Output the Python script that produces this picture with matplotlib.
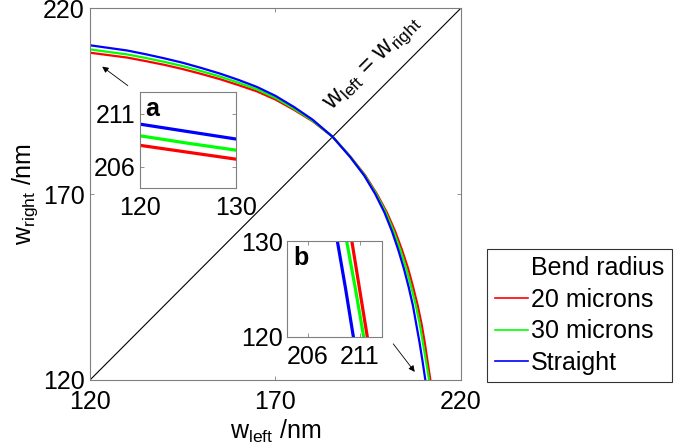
import matplotlib
matplotlib.use("Agg")
from matplotlib import pyplot as plt
from matplotlib.lines import Line2D

plt.rcParams['font.family'] = ['Liberation Sans', 'DejaVu Sans']
plt.rcParams['mathtext.fontset'] = 'custom'
plt.rcParams['mathtext.rm'] = 'Liberation Sans'
plt.rcParams['mathtext.it'] = 'Liberation Sans'

# w_left / w_right pairs (nm)
wl_straight = [120, 125, 130, 135, 140, 145, 150, 155, 160, 165, 170, 175, 180, 185.4,
               190.1, 193.9, 196.9, 199.4, 201.4, 203.1, 204.6, 205.9, 207.05, 207.95, 208.85, 209.65, 210.4]
wr_straight = [210.0, 209.3, 208.6, 207.6, 206.5, 205.3, 203.9, 202.4, 200.7, 198.8, 196.4, 193.4, 190.0, 185.4,
               180, 175, 170, 165, 160, 155, 150, 145, 140, 135, 130, 125, 120]

wl_30 = [120, 125, 130, 135, 140, 145, 150, 155, 160, 165, 170, 175, 180, 185.4,
         190.2, 194.05, 197.15, 199.75, 201.85, 203.65, 205.25, 206.6, 207.85, 208.9, 209.75, 210.6, 211.4]
wr_30 = [208.9, 208.2, 207.55, 206.6, 205.55, 204.4, 203.05, 201.6, 199.95, 198.15, 195.85, 192.95, 189.75, 185.4,
         180, 175, 170, 165, 160, 155, 150, 145, 140, 135, 130, 125, 120]

wl_20 = [120, 125, 130, 135, 140, 145, 150, 155, 160, 165, 170, 175, 180, 185.4,
         190.25, 194.2, 197.35, 200.05, 202.25, 204.1, 205.75, 207.1, 208.35, 209.4, 210.25, 211.0, 211.75]
wr_20 = [208.0, 207.35, 206.7, 205.75, 204.75, 203.6, 202.3, 200.9, 199.3, 197.6, 195.4, 192.65, 189.6, 185.4,
         180, 175, 170, 165, 160, 155, 150, 145, 140, 135, 130, 125, 120]

series = [("20 microns", wl_20, wr_20, (1, 0, 0)),
          ("30 microns", wl_30, wr_30, (0, 1, 0)),
          ("Straight", wl_straight, wr_straight, (0, 0, 1))]

main_ticks = [120, 170, 220]
grey = '#7f7f7f'
fs = 18

fig = plt.figure(figsize=(6.75, 4.47), dpi=100)


def style_axes(ax):
    for s in ax.spines.values():
        s.set_color(grey)
        s.set_linewidth(0.8)
    ax.tick_params(direction='in', top=True, right=True, color=grey,
                   labelsize=fs, length=3, width=0.6)


# main plot
ax = fig.add_axes([0.1333, 0.1499, 0.5496, 0.832])
ax.plot([120, 220], [120, 220], color='black', lw=0.8)
for name, wl, wr, c in series:
    ax.plot(wl, wr, color=c, lw=1.6)
ax.set_xlim(120, 220)
ax.set_ylim(120, 220)
ax.set_xticks(main_ticks)
ax.set_yticks(main_ticks)
style_axes(ax)
ax.tick_params(axis='x', pad=7)
ax.tick_params(axis='y', pad=4)
ax.set_xlabel(r'w$_{\rm left}$ /nm', fontsize=fs, labelpad=3)
ax.set_ylabel(r'w$_{\rm right}$ /nm', fontsize=fs, labelpad=2)
ax.text(196.3, 205.0, r'w$_{\rm left}$ = w$_{\rm right}$', fontsize=fs,
        rotation=45, ha='center', va='center', rotation_mode='anchor')

# arrows towards the zoomed regions
ax.annotate('', xy=(122.7, 204.7), xytext=(130.8, 198.7),
            arrowprops=dict(arrowstyle='-|>', color='black', lw=0.6, mutation_scale=9))
ax.annotate('', xy=(208.0, 121.6), xytext=(201.3, 130.3),
            arrowprops=dict(arrowstyle='-|>', color='black', lw=0.6, mutation_scale=9))

# inset a
axa = fig.add_axes([0.2074, 0.580, 0.1418, 0.2134])
for name, wl, wr, c in series:
    axa.plot(wl, wr, color=c, lw=2.3)
axa.set_xlim(120, 130)
axa.set_ylim(204, 213)
axa.set_xticks([120, 130])
axa.set_yticks([206, 211])
style_axes(axa)
axa.tick_params(axis='x', pad=6)
axa.tick_params(axis='y', pad=3)
axa.text(0.06, 0.95, 'a', transform=axa.transAxes, fontsize=fs, fontweight='bold',
         ha='left', va='top')

# inset b
axb = fig.add_axes([0.4256, 0.2468, 0.1407, 0.214])
for name, wl, wr, c in series:
    axb.plot(wl, wr, color=c, lw=2.3)
axb.set_xlim(204, 213.2)
axb.set_ylim(120, 130)
axb.set_xticks([206, 211])
axb.set_yticks([120, 130])
style_axes(axb)
axb.tick_params(axis='x', pad=6)
axb.tick_params(axis='y', pad=3)
axb.text(0.06, 0.95, 'b', transform=axb.transAxes, fontsize=fs, fontweight='bold',
         ha='left', va='top')

# legend
handles = [Line2D([], [], color='none')]
labels = ['Bend radius']
for name, wl, wr, c in series:
    handles.append(Line2D([], [], color=c, lw=1.2))
    labels.append(name)
leg = fig.legend(handles, labels, loc='upper left', bbox_to_anchor=(0.7215, 0.443),
                 fontsize=fs, frameon=True, fancybox=False, edgecolor='black',
                 handlelength=1.35, handletextpad=0.1, labelspacing=0.3,
                 borderpad=0.3, borderaxespad=0)
leg.get_frame().set_linewidth(0.8)

fig.savefig('out.png', dpi=100)
